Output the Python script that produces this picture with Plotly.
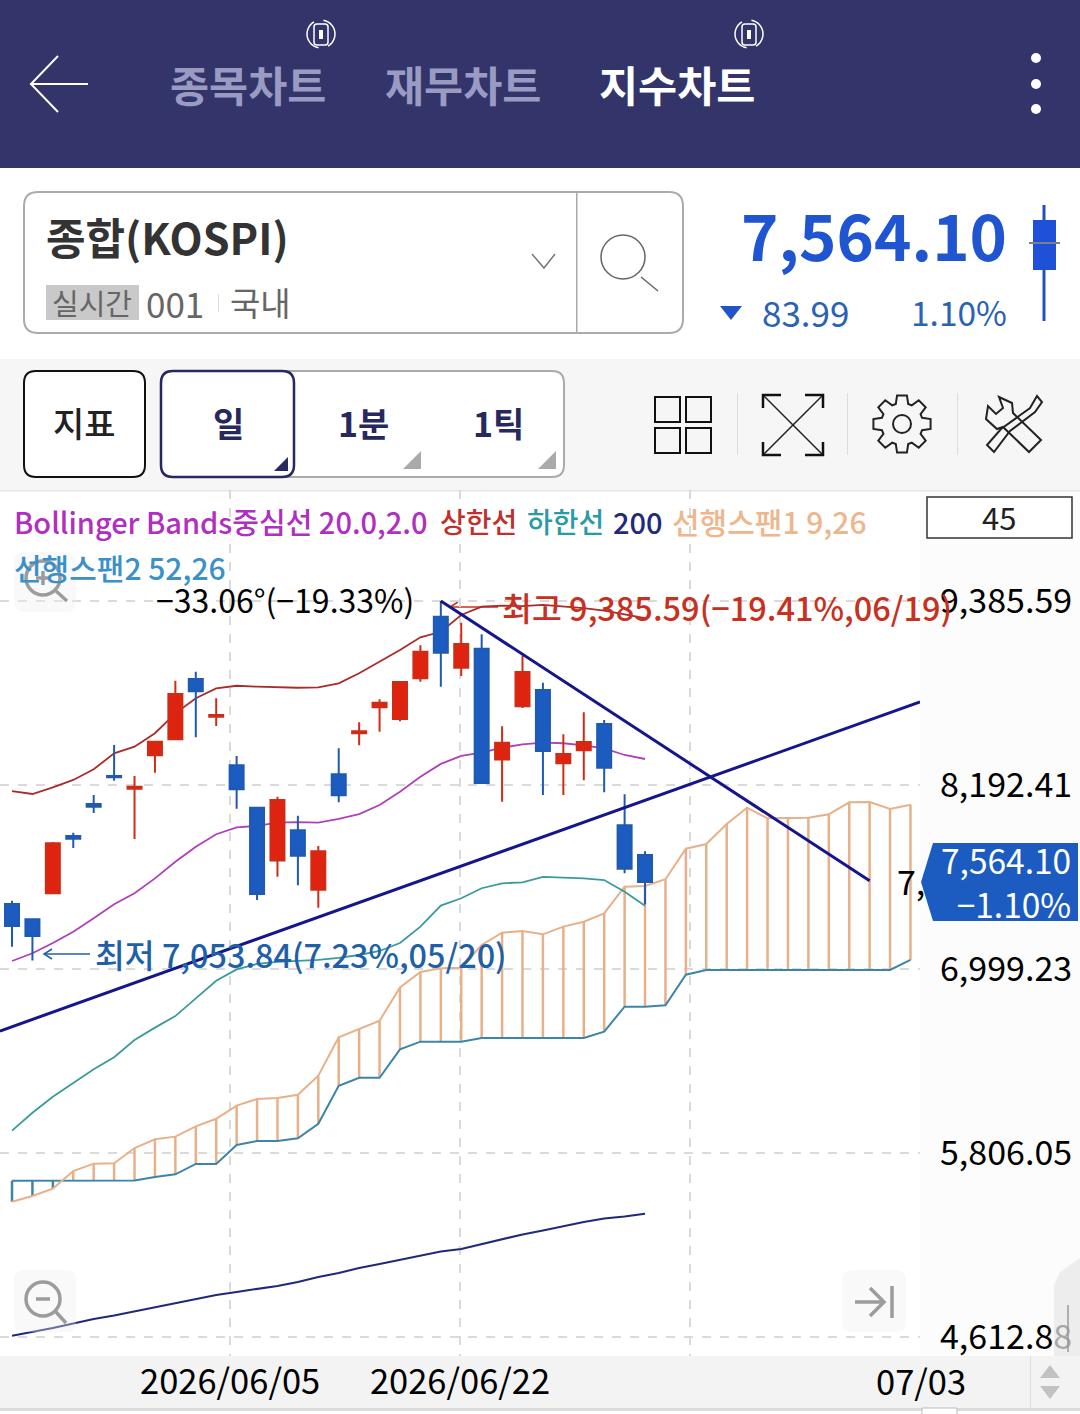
import numpy as np
import plotly.graph_objects as go

W, H = 1080, 1414
PLOT_H = 1411  # plotly keeps 3px at the bottom of the page, paper coords are relative to this
FONT = "Noto Sans CJK KR"

# candles (index points)
OPEN = [7421, 7322, 7490, 7862, 8069, 8251, 8168, 8385, 8489, 8880, 8635, 8320, 8045, 7702, 7899, 7513,
        8262, 8528, 8696, 8620, 8884, 9284, 8953, 9076, 8357, 8703, 8808, 8333, 8417, 8588, 7931, 7738]
HIGH = [7442, 7322, 7823, 7883, 8128, 8452, 8251, 8473, 8869, 8927, 8755, 8381, 8045, 8117, 7993, 7797,
        8430, 8599, 8748, 8867, 9098, 9385.59, 9245, 9170, 8573, 9031, 8856, 8521, 8664, 8614, 8132, 7762]
LOW = [7144, 7053.84, 7490, 7784, 8011, 8220, 7842, 8272, 8489, 8502, 8575, 8039, 7447, 7598, 7542, 7397,
       8080, 8450, 8538, 8606, 8862, 8830, 8899, 8205, 8084, 8692, 8128, 8128, 8223, 8145, 7620, 7419]
CLOSE = [7278, 7213, 7814, 7844, 8052, 8242, 8181, 8473, 8783, 8800, 8646, 8165, 7486, 8095, 7734, 7762,
         8126, 8541, 8726, 8860, 9057, 9050, 9107, 8205, 8467, 8925, 8413, 8393, 8471, 8305, 7650, 7564.10]

BB_MID = [7051, 7101, 7168, 7241, 7328, 7419, 7490, 7587, 7695, 7792, 7873, 7918, 7927, 7948, 7952, 7948,
          7972, 8004, 8063, 8149, 8246, 8329, 8381, 8402, 8434, 8456, 8467, 8463, 8450, 8430, 8387, 8361]
BB_UP = [8153, 8134, 8177, 8225, 8294, 8398, 8441, 8528, 8657, 8755, 8819, 8836, 8830, 8826, 8823, 8826,
         8852, 8917, 8992, 9068, 9150, 9186, 9295, 9349, 9355, 9353, 9360, 9349, 9340, 9323, 9301, 9275]
BB_LOW = [5951, 6067, 6171, 6262, 6349, 6427, 6539, 6619, 6694, 6809, 6923, 6997, 7032, 7045, 7051, 7058,
          7071, 7090, 7116, 7168, 7274, 7410, 7458, 7523, 7555, 7561, 7596, 7591, 7587, 7576, 7500, 7410]
MA200 = [4621, 4645, 4671, 4700, 4730, 4752, 4778, 4807, 4833, 4856, 4885, 4905, 4924, 4944, 4970, 5002,
         5028, 5060, 5086, 5112, 5138, 5167, 5184, 5216, 5248, 5278, 5304, 5333, 5359, 5381, 5394, 5412]

SPAN1 = [5490, 5527, 5575, 5689, 5737, 5739, 5838, 5895, 5912, 5979, 6028, 6113, 6156, 6163, 6184, 6307,
         6556, 6608, 6664, 6879, 6980, 7004, 7008, 7155, 7235, 7246, 7224, 7274, 7306, 7360, 7533, 7537,
         7581, 7779, 7810, 7939, 8045, 7976, 7978, 7980, 8002, 8080, 8082, 8037, 8065]
SPAN2 = [5626, 5626, 5626, 5628, 5628, 5628, 5628, 5650, 5668, 5735, 5735, 5858, 5884, 5884, 5901, 5996,
         6242, 6294, 6294, 6478, 6528, 6528, 6528, 6552, 6552, 6552, 6552, 6552, 6552, 6593, 6755, 6755,
         6764, 6962, 6993, 6993, 6993, 6993, 6993, 6993, 6993, 6993, 6993, 6993, 7058]

TREND_DOWN_X, TREND_DOWN_Y = [21, 42], [9385.59, 7571]
TREND_UP_X, TREND_UP_Y = [-0.59, 44.47], [6597, 8731]

Y_TICKS = [9385.59, 8192.41, 6999.23, 5806.05, 4612.88]
Y_LABELS = ["9,385.59", "8,192.41", "6,999.23", "5,806.05", "4,612.88"]
X_TICKS = [10.68, 21.94, 33.2]
X_LABELS = ["2026/06/05", "2026/06/22", ""]

RED, BLUE = "#de2410", "#1c5cc0"
ORANGE, TEAL_BLUE = "#e8b088", "#3d85a8"
NAVY = "#16168c"

X_RANGE = [-0.588, 44.466]
Y_RANGE = [4489.6, 10105.4]


def fx(x):
    return x / W


def fy(y):
    return 1 - y / PLOT_H


def poly(points, line=None, fill=None, width=2, closed=False, layer="below"):
    d = "M" + " L".join(f"{fx(x):.5f},{fy(y):.5f}" for x, y in points) + (" Z" if closed else "")
    return dict(type="path", xref="paper", yref="paper", path=d, layer=layer,
                line=dict(color=line or "rgba(0,0,0,0)", width=width if line else 0),
                fillcolor=fill or "rgba(0,0,0,0)")


def box(x0, y0, x1, y1, fill=None, line=None, width=1, layer="below"):
    return dict(type="rect", xref="paper", yref="paper", x0=fx(x0), x1=fx(x1), y0=fy(y0), y1=fy(y1),
                layer=layer, fillcolor=fill or "rgba(0,0,0,0)",
                line=dict(color=line or "rgba(0,0,0,0)", width=width if line else 0))


def rounded(x0, y0, x1, y1, r, fill=None, line=None, width=2, layer="below"):
    p = lambda x, y: f"{fx(x):.5f},{fy(y):.5f}"
    d = (f"M{p(x0 + r, y0)} L{p(x1 - r, y0)} Q{p(x1, y0)} {p(x1, y0 + r)} L{p(x1, y1 - r)} "
         f"Q{p(x1, y1)} {p(x1 - r, y1)} L{p(x0 + r, y1)} Q{p(x0, y1)} {p(x0, y1 - r)} "
         f"L{p(x0, y0 + r)} Q{p(x0, y0)} {p(x0 + r, y0)} Z")
    return dict(type="path", xref="paper", yref="paper", path=d, layer=layer,
                line=dict(color=line or "rgba(0,0,0,0)", width=width if line else 0),
                fillcolor=fill or "rgba(0,0,0,0)")


def circle(cx, cy, r, line=None, fill=None, width=2, layer="below"):
    return dict(type="circle", xref="paper", yref="paper", x0=fx(cx - r), x1=fx(cx + r),
                y0=fy(cy + r), y1=fy(cy - r), layer=layer, fillcolor=fill or "rgba(0,0,0,0)",
                line=dict(color=line or "rgba(0,0,0,0)", width=width if line else 0))


def note(text, x, y, size, color="#000000", anchor="left", weight=400):
    return dict(text=text, x=fx(x), y=fy(y), xref="paper", yref="paper", xanchor=anchor, yanchor="middle",
                showarrow=False, borderpad=0, align=anchor,
                font=dict(family=FONT, size=size, color=color, weight=weight))


def gear(cx, cy):
    pts = []
    for k in range(8):
        a = k * np.pi / 4
        for da, r in [(-0.30, 21), (-0.17, 29), (0.17, 29), (0.30, 21)]:
            pts.append((cx + r * np.cos(a + da), cy + r * np.sin(a + da)))
    return pts


def arc(cx, cy, r, a0, a1):
    return [(cx + r * np.cos(a), cy + r * np.sin(a)) for a in np.linspace(a0, a1, 14)]


fig = go.Figure()

# ichimoku cloud hatching, blue where span 2 sits over span 1
for flip, col in [(False, ORANGE), (True, TEAL_BLUE)]:
    xs, ys = [], []
    for i, (a, b) in enumerate(zip(SPAN1, SPAN2)):
        if (b > a) == flip:
            xs += [i, i, None]
            ys += [a, b, None]
    fig.add_trace(go.Scatter(x=xs, y=ys, mode="lines", line=dict(color=col, width=2.5), hoverinfo="skip"))

idx = list(range(len(SPAN1)))
candle_idx = list(range(len(OPEN)))
fig.add_trace(go.Scatter(x=idx, y=SPAN2, mode="lines", line=dict(color=TEAL_BLUE, width=2), hoverinfo="skip"))
fig.add_trace(go.Scatter(x=idx, y=SPAN1, mode="lines", line=dict(color=ORANGE, width=2), hoverinfo="skip"))
fig.add_trace(go.Scatter(x=candle_idx, y=MA200, mode="lines", line=dict(color="#1f2a78", width=2), hoverinfo="skip"))
fig.add_trace(go.Scatter(x=candle_idx, y=BB_LOW, mode="lines", line=dict(color="#3a9a9c", width=1.8), hoverinfo="skip"))
fig.add_trace(go.Scatter(x=candle_idx, y=BB_UP, mode="lines", line=dict(color="#a82c2c", width=1.8), hoverinfo="skip"))
fig.add_trace(go.Scatter(x=candle_idx, y=BB_MID, mode="lines", line=dict(color="#b040b8", width=1.8), hoverinfo="skip"))

# candles go on an overlay axis so they sit over the indicator lines
fig.add_trace(go.Candlestick(
    x=candle_idx, open=OPEN, high=HIGH, low=LOW, close=CLOSE, xaxis="x2", yaxis="y2", whiskerwidth=0,
    increasing=dict(line=dict(color="#cf2c16", width=2), fillcolor=RED),
    decreasing=dict(line=dict(color="#2059b0", width=2), fillcolor=BLUE),
    hoverinfo="skip",
))
fig.add_trace(go.Scatter(x=TREND_DOWN_X, y=TREND_DOWN_Y, mode="lines", xaxis="x2", yaxis="y2",
                         line=dict(color=NAVY, width=3), hoverinfo="skip"))
fig.add_trace(go.Scatter(x=TREND_UP_X, y=TREND_UP_Y, mode="lines", xaxis="x2", yaxis="y2",
                         line=dict(color=NAVY, width=3), hoverinfo="skip"))

shapes = [
    # panels
    box(0, 0, W, 168, fill="#32346a"),
    box(0, 359, W, 490, fill="#f6f6f6"),
    box(920, 490, W, 1356, fill="#fcfcfc"),
    box(0, 1356, W, 1408, fill="#f3f3f3"),
    box(0, 1408, W, 1411, fill="#dcdcdc"),
    box(0, 490, W, 491.5, fill="#e6e6e6"),
    box(1030, 1356, 1031, 1408, fill="#dedede"),
    box(922, 1408, 957, 1416, line="#bbbbbb", fill="#ffffff", width=1),
    # header icons
    poly([(30, 84), (88, 84)], line="#ffffff"),
    poly([(58, 56), (31, 84), (58, 112)], line="#ffffff"),
    circle(1036, 58, 5, fill="#ffffff"),
    circle(1036, 84, 5, fill="#ffffff"),
    circle(1036, 109, 5, fill="#ffffff"),
    # search box
    rounded(24, 192, 683, 333, 14, fill="#ffffff", line="#aaaaaa"),
    box(576, 192, 577.5, 333, fill="#aaaaaa"),
    poly([(532, 254), (544, 268), (555, 254)], line="#777777", width=1.5),
    circle(623, 257, 22, line="#666666", width=1.5),
    poly([(641, 277), (658, 291)], line="#666666", width=1.5),
    box(46, 285, 139, 320, fill="#c9c9c9"),
    box(218, 294, 219, 312, fill="#dddddd"),
    # small candle next to the price
    poly([(1044, 205), (1044, 321)], line="#2350c0", width=3),
    box(1033, 220, 1056, 270, fill="#1f50d8"),
    poly([(1029, 243), (1060, 243)], line="#7a8090", width=2),
    poly([(720, 306), (742, 306), (731, 320)], fill="#1f55c8", closed=True),
    # toolbar
    rounded(24, 371, 145, 477, 12, fill="#ffffff", line="#111111"),
    rounded(161, 371, 564, 477, 12, fill="#ffffff", line="#aaaaaa"),
    rounded(161, 371, 294, 477, 12, fill="#ffffff", line="#26285e", width=2.5),
    poly([(288, 457), (288, 471), (274, 471)], fill="#26285e", closed=True),
    poly([(421, 451), (421, 469), (403, 469)], fill="#aaaaaa", closed=True),
    poly([(556, 451), (556, 469), (538, 469)], fill="#aaaaaa", closed=True),
    box(655, 397, 680, 422, line="#111111", width=2),
    box(686, 397, 711, 422, line="#111111", width=2),
    box(655, 428, 680, 453, line="#111111", width=2),
    box(686, 428, 711, 453, line="#111111", width=2),
    box(737, 393, 738, 455, fill="#dddddd"),
    box(847, 393, 848, 455, fill="#dddddd"),
    box(957, 393, 958, 455, fill="#dddddd"),
    poly([(763, 395), (823, 455)], line="#222222", width=1.5),
    poly([(823, 395), (763, 455)], line="#222222", width=1.5),
    poly([(763, 408), (763, 395), (781, 395)], line="#111111", width=2.5),
    poly([(805, 395), (823, 395), (823, 408)], line="#111111", width=2.5),
    poly([(763, 442), (763, 455), (781, 455)], line="#111111", width=2.5),
    poly([(805, 455), (823, 455), (823, 442)], line="#111111", width=2.5),
    poly(gear(902, 424), line="#222222", width=2, closed=True),
    circle(902, 424, 9, line="#222222", width=2),
    poly([(999, 397), (1003, 408), (996, 414), (988, 406), (986, 419), (997, 429), (1003, 427),
          (1029, 452), (1041, 440), (1013, 413), (1012, 403)], line="#222222", width=2, closed=True),
    poly([(1030, 408), (1037, 396), (1042, 402), (1035, 412), (1010, 431), (994, 452), (987, 445), (1001, 429)],
         line="#222222", width=2, closed=True),
    # value box and price tag
    box(927, 497, 1072, 538, fill="#ffffff", line="#333333", width=1.5),
    poly([(933, 843), (1078, 843), (1078, 921), (933, 921), (921, 882)], fill="#1c5cc0", closed=True),
    # high and low markers
    poly([(452, 607), (498, 607)], line="#c83020", width=1.5),
    poly([(458, 602), (450, 607), (458, 612)], line="#c83020", width=1.5),
    poly([(44, 954), (90, 954)], line="#2060a8", width=1.5),
    poly([(52, 949), (44, 954), (52, 959)], line="#2060a8", width=1.5),
    # floating chart buttons
    rounded(14, 552, 76, 612, 10, fill="rgba(238,238,238,0.35)", layer="above"),
    circle(43, 578, 17, line="#9c9c9c", width=3.5, layer="above"),
    poly([(36, 578), (50, 578)], line="#9c9c9c", width=3.5, layer="above"),
    poly([(43, 571), (43, 585)], line="#9c9c9c", width=3.5, layer="above"),
    poly([(56, 591), (67, 601)], line="#9c9c9c", width=3.5, layer="above"),
    rounded(14, 1270, 76, 1332, 10, fill="rgba(238,238,238,0.35)", layer="above"),
    circle(43, 1299, 17, line="#9c9c9c", width=3.5, layer="above"),
    poly([(36, 1299), (50, 1299)], line="#9c9c9c", width=3.5, layer="above"),
    poly([(56, 1312), (66, 1323)], line="#9c9c9c", width=3.5, layer="above"),
    rounded(842, 1270, 906, 1332, 10, fill="rgba(238,238,238,0.35)", layer="above"),
    poly([(855, 1302), (884, 1302)], line="#9c9c9c", width=3.5, layer="above"),
    poly([(870, 1288), (884, 1302), (870, 1316)], line="#9c9c9c", width=3.5, layer="above"),
    poly([(892, 1286), (892, 1318)], line="#9c9c9c", width=3.5, layer="above"),
    # side handle and scroll arrows
    poly([(1080, 1258), (1060, 1272), (1054, 1285), (1054, 1356), (1080, 1356)],
         fill="rgba(232,232,232,0.72)", closed=True, layer="above"),
    poly([(1068, 1305), (1068, 1352)], line="#999999", width=1.5, layer="above"),
    poly([(1040, 1378), (1060, 1378), (1050, 1365)], fill="#c2c2c2", closed=True),
    poly([(1040, 1386), (1060, 1386), (1050, 1399)], fill="#c2c2c2", closed=True),
]

# the two small rotate icons on the tabs
for cx in (321, 749):
    shapes += [
        rounded(cx - 7, 24, cx + 7, 45, 3, line="#ffffff", width=1.5),
        box(cx - 2, 30, cx + 2, 39, fill="#ffffff"),
        poly(arc(cx, 34, 14, np.radians(100), np.radians(240)), line="#ffffff", width=1.5),
        poly(arc(cx, 34, 14, np.radians(-80), np.radians(60)), line="#ffffff", width=1.5),
    ]

annotations = [
    note("종목차트", 248, 83, 42.5, "#9a9bc2", "center", 700),
    note("재무차트", 463, 83, 42.5, "#9a9bc2", "center", 700),
    note("지수차트", 677, 83, 42.5, "#ffffff", "center", 700),
    note("종합(KOSPI)", 45, 236, 43, "#333333", "left", 700),
    note("실시간", 92, 302, 29, "#666666", "center"),
    note("001", 145, 302, 35, "#666666"),
    note("국내", 229, 302, 33, "#666666"),
    note("7,564.10", 1008, 233, 63.5, "#1f55d0", "right", 700),
    note("83.99", 805, 311, 35, "#2a62b4", "center"),
    note("1.10%", 1008, 311, 33.5, "#2a62b4", "right"),
    note("지표", 84, 422.5, 34, "#222222", "center", 500),
    note("일", 228, 422.5, 34, "#26285e", "center", 700),
    note("1분", 363, 422.5, 34, "#26285e", "center", 700),
    note("1틱", 498, 422.5, 34, "#26285e", "center", 700),
    note("Bollinger Bands중심선 20.0,2.0", 13, 521, 29, "#b02ec0", weight=500),
    note("상한선", 439, 521, 28, "#c0302c", weight=500),
    note("하한선", 526, 521, 28, "#2a9aa5", weight=500),
    note("200", 612, 521, 29, "#1f2a7c", weight=500),
    note("선행스팬1 9,26", 671, 521, 30, "#eeb68c", weight=500),
    note("선행스팬2 52,26", 13, 567, 30, "#3a90c8", weight=500),
    note("45", 999, 516, 31, "#222222", "center"),
    note("−33.06°(−19.33%)", 155, 599, 32, "#000000"),
    note("최고 9,385.59(−19.41%,06/19)", 501, 606, 32.5, "#c83020", weight=500),
    note("최저 7,053.84(7.23%,05/20)", 94, 953, 32.4, "#2060a8", weight=500),
    note("7,", 896, 880, 34, "#000000"),
    note("7,564.10<br>−1.10%", 1072, 881, 33.5, "#ffffff", "right"),
    note("07/03", 921, 1380, 34.5, "#000000", "center"),
]

fig.update_layout(
    width=W, height=H, margin=dict(l=0, r=0, t=0, b=0),
    paper_bgcolor="#ffffff", plot_bgcolor="#ffffff", showlegend=False,
    font=dict(family=FONT), boxgap=0.02, hovermode=False,
    shapes=shapes, annotations=annotations,
    xaxis=dict(domain=[0, 920 / W], range=X_RANGE, tickmode="array", tickvals=X_TICKS, ticktext=X_LABELS,
               showgrid=True, griddash="dash", gridcolor="#dadada", gridwidth=1.5, zeroline=False, ticks="",
               ticklabelstandoff=2, tickfont=dict(family=FONT, size=34.5, color="#000000"), showline=False),
    yaxis=dict(domain=[fy(1356), fy(490)], range=Y_RANGE, side="right", tickmode="array", tickvals=Y_TICKS,
               ticktext=Y_LABELS, showgrid=True, griddash="dash", gridcolor="#dadada", gridwidth=1.5,
               zeroline=False, ticks="", ticklabelstandoff=19,
               tickfont=dict(family=FONT, size=34, color="#000000"), showline=False),
    xaxis2=dict(overlaying="x", range=X_RANGE, visible=False, rangeslider=dict(visible=False)),
    yaxis2=dict(overlaying="y", range=Y_RANGE, visible=False),
)

fig.write_html("out.html", config=dict(displayModeBar=False),
               post_script="document.body.style.margin='0';document.body.style.overflow='hidden';")
